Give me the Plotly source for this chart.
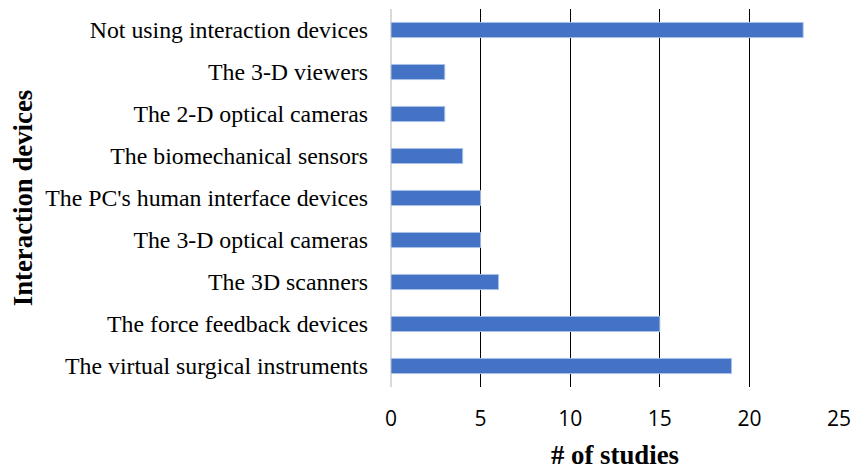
import plotly.graph_objects as go

# Interaction devices used across the reviewed studies (bottom to top)
devices = [
    "The virtual surgical instruments",
    "The force feedback devices",
    "The 3D scanners",
    "The 3-D optical cameras",
    "The PC's human interface devices",
    "The biomechanical sensors",
    "The 2-D optical cameras",
    "The 3-D viewers",
    "Not using interaction devices",
]
study_counts = [19, 15, 6, 5, 5, 4, 3, 3, 23]
x_ticks = [0, 5, 10, 15, 20, 25]

serif = "Liberation Serif, Times New Roman, serif"
sans = "Open Sans, Liberation Sans, sans-serif"

fig = go.Figure(
    go.Bar(
        x=study_counts,
        y=devices,
        orientation="h",
        marker=dict(color="#4472C4", line=dict(color="#a9c0e8", width=1)),
    )
)

fig.update_layout(
    width=854,
    height=470,
    margin=dict(l=391, r=15, t=9, b=83, autoexpand=False),
    paper_bgcolor="white",
    plot_bgcolor="white",
    bargap=0.64,
    showlegend=False,
    xaxis=dict(
        range=[0, 25],
        tickvals=x_ticks,
        showgrid=True,
        gridcolor="black",
        gridwidth=1,
        zeroline=True,
        zerolinecolor="#d9d9d9",
        zerolinewidth=2,
        ticks="",
        tickfont=dict(family=sans, size=21, color="black"),
        ticklabelstandoff=17,
        title=dict(
            text="<b># of studies</b>",
            font=dict(family=serif, size=26.8, color="black"),
            standoff=14,
        ),
        fixedrange=True,
    ),
    yaxis=dict(
        categoryorder="array",
        categoryarray=devices,
        showgrid=False,
        zeroline=False,
        ticks="",
        ticklabelstandoff=22,
        tickfont=dict(family=serif, size=23.8, color="black"),
        title=dict(
            text="<b>Interaction devices</b>",
            font=dict(family=serif, size=26.8, color="black"),
            standoff=4,
        ),
        fixedrange=True,
    ),
)

fig.write_html("out.html")
